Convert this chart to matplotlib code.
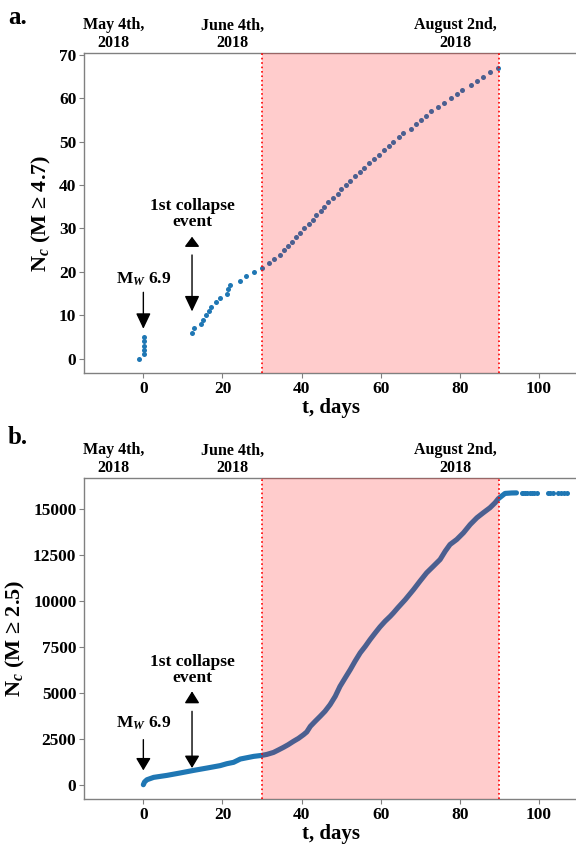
import numpy as np
import matplotlib
matplotlib.use('Agg')
from matplotlib import pyplot as plt

plt.rcParams['font.family'] = ['Liberation Serif', 'DejaVu Serif']
plt.rcParams['font.weight'] = 'bold'
plt.rcParams['axes.labelweight'] = 'bold'
plt.rcParams['mathtext.fontset'] = 'custom'
plt.rcParams['mathtext.rm'] = 'Liberation Serif:bold'
plt.rcParams['mathtext.it'] = 'Liberation Serif:italic'
plt.rcParams['mathtext.bf'] = 'Liberation Serif:bold'

# Panel a: event times (days since May 4th) and cumulative count, M >= 4.7
t_a = [-1.0, 0.1, 0.1, 0.1, 0.1, 0.1,
       12.3, 12.7, 14.5, 15.2, 15.9, 16.5, 17.2, 18.4, 19.3, 21.2, 21.5, 21.8,
       24.5, 25.9, 28.0, 30.05, 31.7, 33.1, 34.5, 35.6, 36.6, 37.6, 38.5, 39.5,
       40.6, 41.9, 42.9, 43.7, 44.8, 45.6, 46.6, 47.9, 49.1, 50.0, 51.1, 52.1,
       53.4, 54.7, 55.7, 57.0, 58.4, 59.5, 60.7, 62.0, 63.1, 64.5, 65.7, 67.6,
       68.9, 70.1, 71.5, 72.8, 74.4, 76.0, 77.7, 79.2, 80.5, 82.7, 84.4, 85.9,
       87.6, 89.7]
n_a = [0, 1, 2, 3, 4, 5,
       6, 7, 8, 9, 10, 11, 12, 13, 14, 15, 16, 17,
       18, 19, 20, 21, 22, 23, 24, 25, 26, 27, 28, 29,
       30, 31, 32, 33, 34, 35, 36, 37, 38, 39, 40, 41,
       42, 43, 44, 45, 46, 47, 48, 49, 50, 51, 52, 53,
       54, 55, 56, 57, 58, 59, 60, 61, 62, 63, 64, 65,
       66, 67]

# Panel b: cumulative count, M >= 2.5
t_b = [0.0, 0.3, 0.9, 2.6, 6.0, 9.3, 12.7, 16.1, 19.4, 21.1, 22.8, 24.5,
       27.9, 30.0, 31.2, 32.9, 34.1, 35.4, 36.6, 37.9, 39.2, 40.5, 41.3,
       42.2, 43.4, 44.7, 45.9, 47.2, 48.5, 49.7, 51.0, 52.3, 53.5, 54.8,
       56.1, 57.3, 58.6, 59.8, 61.1, 62.4, 63.2, 64.3, 66.2, 68.3, 69.9,
       71.6, 73.3, 75.0, 76.3, 77.5, 79.2, 80.9, 82.6, 84.3, 85.9, 87.6,
       88.9, 89.7, 91.4, 93.1, 94.3]
n_b = [0, 150, 270, 400, 510, 640, 780, 910, 1040, 1145, 1220, 1400,
       1545, 1600, 1650, 1760, 1890, 2035, 2180, 2360, 2525, 2730, 2875,
       3180, 3450, 3730, 4000, 4365, 4820, 5360, 5820, 6275, 6730, 7185,
       7545, 7910, 8275, 8600, 8910, 9180, 9365, 9640, 10090, 10640, 11090,
       11550, 11910, 12275, 12730, 13090, 13365, 13730, 14180, 14550, 14820, 15095,
       15370, 15585, 15875, 15900, 15905]
# sparse late events
t_tail = [95.6, 96.0, 96.5, 96.9, 97.7, 98.2, 98.7, 99.4,
          102.3, 102.8, 103.6, 104.9, 105.5, 106.2, 107.0]
n_tail = [15906, 15907, 15908, 15909, 15910, 15911, 15912, 15913,
          15914, 15915, 15916, 15917, 15918, 15919, 15920]

dates = ['May 4th,\n2018', 'June 4th,\n2018', 'August 2nd,\n2018']
date_x = [-7.6, 22.5, 78.8]
window = (30, 90)

blue = '#1f77b4'
fig = plt.figure(figsize=(5.76, 8.46), dpi=100)
ax_a = fig.add_axes([84/576, 472.7/846, 494.6/576, 320/846])
ax_b = fig.add_axes([84/576, 46.7/846, 494.6/576, 321/846])

ax_a.scatter(t_a, n_a, s=13, color=blue, zorder=2, linewidths=0)
ax_a.set_ylim(-3.35, 70.35)
ax_a.set_yticks(range(0, 71, 10))
ax_a.set_ylabel(r'N$_c$ (M ≥ 4.7)', fontsize=16, labelpad=4)

ax_b.plot(t_b, n_b, color=blue, lw=3.7, solid_capstyle='round',
          solid_joinstyle='round', zorder=2)
ax_b.scatter(t_tail, n_tail, s=13, color=blue, zorder=2, linewidths=0)
ax_b.set_ylim(-795, 16700)
ax_b.set_yticks(range(0, 15001, 2500))
ax_b.set_ylabel(r'N$_c$ (M ≥ 2.5)', fontsize=16, labelpad=4)

for ax in (ax_a, ax_b):
    ax.axvspan(*window, color='red', alpha=0.2, lw=0, zorder=3)
    for x in window:
        ax.axvline(x, color='red', ls=':', lw=1.2, zorder=4)
    ax.set_xlim(-15, 110)
    ax.set_xticks(range(0, 101, 20))
    ax.set_xlabel('t, days', fontsize=15, labelpad=1)
    ax.tick_params(labelsize=12.5, color='#808080', length=3.5, pad=2)
    for sp in ax.spines.values():
        sp.set_color('#808080')
        sp.set_linewidth(1.0)
    for x, s in zip(date_x, dates):
        ax.annotate(s, xy=(x, 1.0), xycoords=('data', 'axes fraction'),
                    xytext=(0, 1.5), textcoords='offset points',
                    ha='center', va='bottom', fontsize=11.5, linespacing=1.15)

# arrows and labels for the mainshock and the first collapse
def arrow(ax, x, tail, tip, hl):
    ax.annotate('', xy=(x, tip), xytext=(x, tail),
                arrowprops=dict(arrowstyle='-|>,head_length=%g,head_width=0.45' % hl,
                                color='black', lw=1, shrinkA=0, shrinkB=0))

arrow(ax_a, 0, 15.3, 6.9, 0.95)
ax_a.text(0, 18.2, r'M$_W$ 6.9', ha='center', va='center', fontsize=12.5)
arrow(ax_a, 12.3, 23.9, 10.9, 0.95)
arrow(ax_a, 12.3, 26.2, 28.1, 0.6)
ax_a.text(12.3, 33.4, '1st collapse\nevent', ha='center', va='center',
          fontsize=12.5, linespacing=1.0)

arrow(ax_b, 0, 2455, 780, 0.75)
ax_b.text(0, 3370, r'M$_W$ 6.9', ha='center', va='center', fontsize=12.5)
arrow(ax_b, 12.3, 4000, 910, 0.75)
arrow(ax_b, 12.3, 4545, 5090, 0.72)
ax_b.text(12.3, 6250, '1st collapse\nevent', ha='center', va='center',
          fontsize=12.5, linespacing=1.0)

fig.text(8/576, 1 - 18/846, 'a.', fontsize=18, va='center', ha='left')
fig.text(8/576, 1 - 437/846, 'b.', fontsize=18, va='center', ha='left')

fig.savefig('out.png', dpi=100)
